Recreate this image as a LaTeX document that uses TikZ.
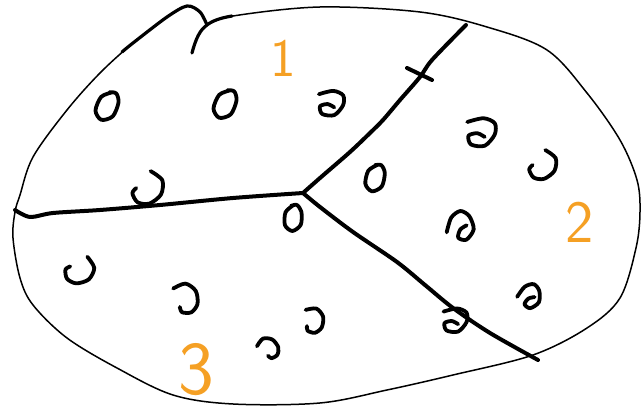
\documentclass[tikz,border=0pt]{standalone}
\usepackage{tikz}
\usetikzlibrary{calc}
\definecolor{figO}{RGB}{245,160,36}

\begin{document}
\begin{tikzpicture}[x=1pt,y=-1pt,
  rim/.style={line width=1.5pt,line join=round,line cap=round},
  cut/.style={line width=4pt,line cap=round,line join=round},
  ink/.style={line width=3.8pt,line cap=round,line join=round},
  num/.style={text=figO,font=\sffamily\fontsize{#1}{#1}\selectfont,inner sep=0pt},
  oval/.pic={\draw[ink] plot[smooth] coordinates {(5,-12) (-5,-8) (-10,4) (-5,12) (5,9) (10,-3) (8,-11) (2,-12)};},
  spiral/.pic={\draw[ink] plot[smooth] coordinates {(-11,-8) (2,-11) (11,-7) (11,2) (3,11) (-8,10) (-10,3) (-3,1) (3,4)};},
  hook/.pic={\draw[ink] plot[smooth] coordinates {(2,-13) (11,-6) (10,5) (1,12) (-8,11) (-12,4) (-9,0)};}]
\useasboundingbox (0,0) rectangle (641,411);
% outer rim
\draw[rim] plot[smooth,tension=0.55] coordinates {(207,25) (233,16) (320,7) (420,12) (487,27) (547,50) (587,93) (620,140) (637,180) (640,212) (636,248) (620,298) (587,328) (533,355) (453,375) (387,390) (320,403) (233,404) (173,395) (117,368) (67,338) (33,305) (20,278) (13,238) (15,212) (20,195) (33,157) (67,110) (100,73) (133,43) (167,17) (187,6) (200,12) (207,25)};
\draw[rim,line width=3.2pt] plot[smooth] coordinates {(122,52) (133,43) (167,17) (187,6) (200,12) (207,25)};
\draw[rim,line width=3.2pt] (192,53) .. controls (196,38) and (200,30) .. (207,25) .. controls (212,21) and (220,18) .. (232,16);
% cuts
\coordinate (J) at (303,193);
\coordinate (W) at (15,210);
\coordinate (N) at (466,25);
\coordinate (S) at (538,360);
\draw[cut] plot[smooth] coordinates {(W) (30,217) (53,213) (100,210) (160,205) (233,198) (J)};
\draw[cut] plot[smooth] coordinates {(J) (320,178) (350,152) (370,133) (383,120) (400,100) (420,77) (432,60) (N)};
\draw[cut] (407,68) -- (432,80);
\draw[cut] plot[smooth] coordinates {(J) (320,207) (353,232) (397,262) (425,285) (453,308) (490,333) (S)};
% curls
\foreach \x/\y/\r/\s in {107/106/0/1.15,225/104/0/1.15,375/178/10/1.05,293/218/20/1}
  \pic[rotate=\r,scale=\s] at (\x,\y) {oval};
\foreach \x/\y/\r/\s in {331/103/0/1.1,481/132/0/1.25,461/226/60/1.15,530/296/40/0.95,455/320/0/1.05}
  \pic[rotate=\r,scale=\s] at (\x,\y) {spiral};
\foreach \x/\y/\r/\s in {148/188/0/1.3,543/165/0/1.15,80/270/-20/1.15,185/298/60/1.15,268/348/90/0.85,313/320/45/0.95}
  \pic[rotate=\r,scale=\s] at (\x,\y) {hook};
% labels
\node[num=54] (l1) at (283,58) {1};
\node[num=60] (l2) at (580,222) {2};
\node[num=76] (l3) at (196,370) {3};
\end{tikzpicture}
\end{document}
